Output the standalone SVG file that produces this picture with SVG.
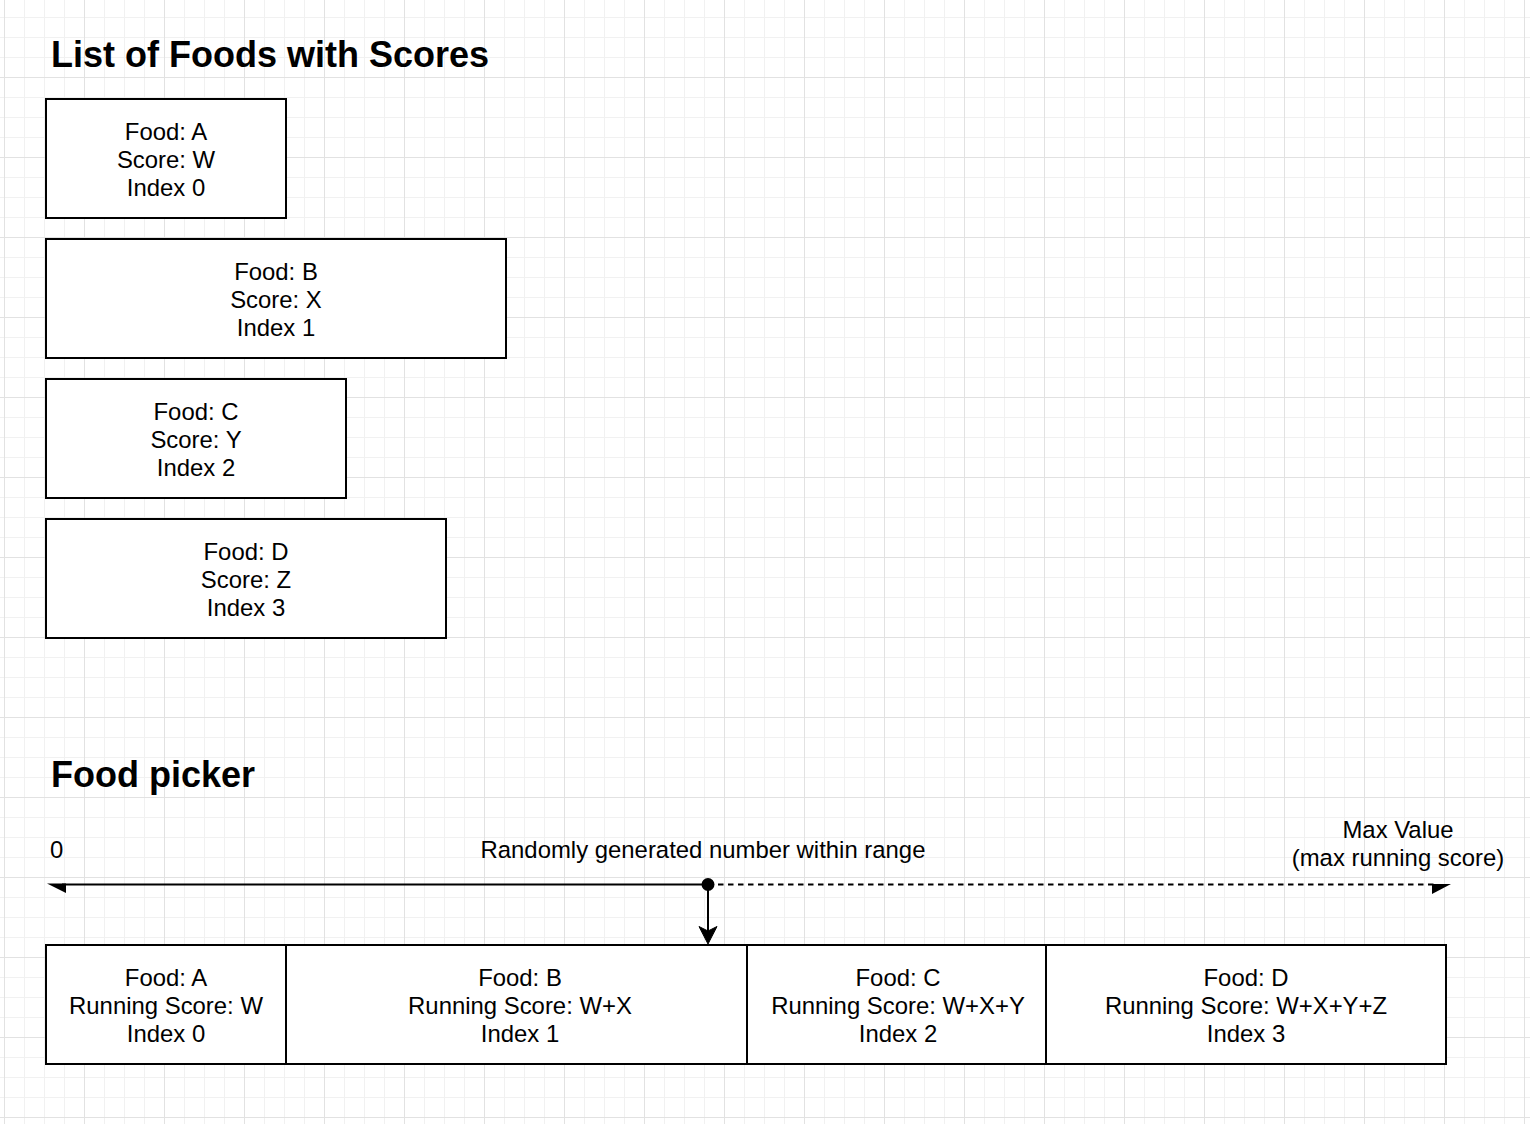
<svg xmlns="http://www.w3.org/2000/svg" width="1530" height="1124" viewBox="0 0 1530 1124">
<defs>
<pattern id="minor" x="4" y="-3" width="20" height="20" patternUnits="userSpaceOnUse">
<path d="M0.5 0V20M0 0.5H20" stroke="#f1f1f1" stroke-width="1" fill="none"/>
</pattern>
<pattern id="major" x="4" y="-3" width="80" height="80" patternUnits="userSpaceOnUse">
<path d="M0.5 0V80M0 0.5H80" stroke="#e2e2e2" stroke-width="1" fill="none"/>
</pattern>
<style>
.box{fill:#ffffff;stroke:#000000;stroke-width:2}
.lbl{font-family:"Liberation Sans",Arial,Helvetica,sans-serif;font-size:23.9px;fill:#000000;text-anchor:middle}
.ttl{font-family:"Liberation Sans",Arial,Helvetica,sans-serif;font-size:36px;font-weight:bold;fill:#000000}
.plain{font-family:"Liberation Sans",Arial,Helvetica,sans-serif;font-size:23.9px;fill:#000000}
.ln{stroke:#000000;stroke-width:2;fill:none}
</style>
</defs>
<rect width="1530" height="1124" fill="#ffffff"/>
<rect width="1530" height="1124" fill="url(#minor)"/>
<rect width="1530" height="1124" fill="url(#major)"/>

<text class="ttl" x="51" y="67">List of Foods with Scores</text>
<text class="ttl" x="51" y="787">Food picker</text>

<g id="foodA">
<rect class="box" x="46" y="99" width="240" height="119"/>
<text class="lbl"><tspan x="166" y="139.5">Food: A</tspan><tspan x="166" y="167.5">Score: W</tspan><tspan x="166" y="195.5">Index 0</tspan></text>
</g>
<g id="foodB">
<rect class="box" x="46" y="239" width="460" height="119"/>
<text class="lbl"><tspan x="276" y="279.5">Food: B</tspan><tspan x="276" y="307.5">Score: X</tspan><tspan x="276" y="335.5">Index 1</tspan></text>
</g>
<g id="foodC">
<rect class="box" x="46" y="379" width="300" height="119"/>
<text class="lbl"><tspan x="196" y="419.5">Food: C</tspan><tspan x="196" y="447.5">Score: Y</tspan><tspan x="196" y="475.5">Index 2</tspan></text>
</g>
<g id="foodD">
<rect class="box" x="46" y="519" width="400" height="119"/>
<text class="lbl"><tspan x="246" y="559.5">Food: D</tspan><tspan x="246" y="587.5">Score: Z</tspan><tspan x="246" y="615.5">Index 3</tspan></text>
</g>

<g id="labels">
<text class="plain" x="50" y="857.5">0</text>
<text class="lbl" x="703" y="857.5">Randomly generated number within range</text>
<text class="lbl"><tspan x="1398" y="838">Max Value</tspan><tspan x="1398" y="866">(max running score)</tspan></text>
</g>

<g id="runA">
<rect class="box" x="46" y="945" width="240" height="119"/>
<text class="lbl"><tspan x="166" y="985.5">Food: A</tspan><tspan x="166" y="1013.5">Running Score: W</tspan><tspan x="166" y="1041.5">Index 0</tspan></text>
</g>
<g id="runB">
<rect class="box" x="286" y="945" width="461" height="119"/>
<text class="lbl"><tspan x="520" y="985.5">Food: B</tspan><tspan x="520" y="1013.5">Running Score: W+X</tspan><tspan x="520" y="1041.5">Index 1</tspan></text>
</g>
<g id="runC">
<rect class="box" x="747" y="945" width="299" height="119"/>
<text class="lbl"><tspan x="898" y="985.5">Food: C</tspan><tspan x="898" y="1013.5">Running Score: W+X+Y</tspan><tspan x="898" y="1041.5">Index 2</tspan></text>
</g>
<g id="runD">
<rect class="box" x="1046" y="945" width="400" height="119"/>
<text class="lbl"><tspan x="1246" y="985.5">Food: D</tspan><tspan x="1246" y="1013.5">Running Score: W+X+Y+Z</tspan><tspan x="1246" y="1041.5">Index 3</tspan></text>
</g>

<g id="connectors">
<path class="ln" d="M708 884.5H62"/>
<path d="M47 883.5L66 883.5L66 893Z" fill="#000000"/>
<path class="ln" d="M708 884.5H1434" stroke-dasharray="5.5 4.5"/>
<path d="M1451 884L1432 884L1432 894Z" fill="#000000"/>
<circle cx="708" cy="884.5" r="6.5" fill="#000000"/>
<path class="ln" d="M708 884.5V934"/>
<path d="M708 944L699 926.5L708 931L717 926.5Z" fill="#000000" stroke="#000000" stroke-width="1"/>
</g>
</svg>
